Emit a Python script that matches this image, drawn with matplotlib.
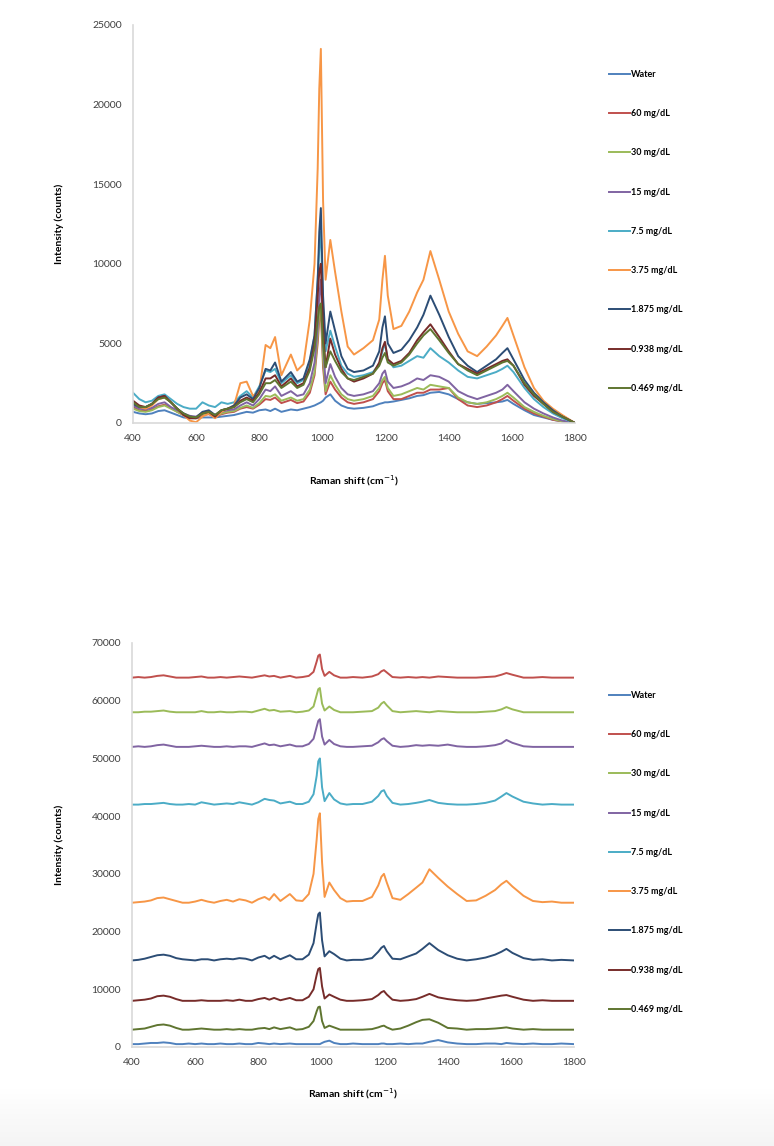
import numpy as np
import matplotlib
matplotlib.use('Agg')
import matplotlib.pyplot as plt

plt.rcParams['font.family'] = ['Lato', 'DejaVu Sans']

# Raman shift grid (cm-1), denser around the peaks
shift = [400, 420, 440, 460, 480, 500, 520, 540, 560, 580,
         600, 620, 640, 660, 680, 700, 720, 740, 760, 780,
         800, 820, 835, 850, 870, 900, 920, 940, 960, 975,
         985, 990, 995, 1002, 1010, 1025, 1040, 1060, 1080, 1100,
         1130, 1160, 1180, 1190, 1198, 1207, 1225, 1250, 1275, 1300,
         1320, 1342, 1370, 1400, 1430, 1460, 1490, 1520, 1550, 1570,
         1586, 1605, 1640, 1670, 1700, 1730, 1760, 1800]

labels = ['Water', '60 mg/dL', '30 mg/dL', '15 mg/dL', '7.5 mg/dL',
          '3.75 mg/dL', '1.875 mg/dL', '0.938 mg/dL', '0.469 mg/dL']
colors = ['#4F81BD', '#C0504D', '#9BBB59', '#8064A2', '#4BACC6',
          '#F79646', '#2C4D75', '#772C2A', '#5F7530']

# raw spectra (top panel)
raw_water = [700, 600, 550, 600, 750, 800, 650, 500, 350, 300,
             300, 350, 350, 350, 400, 450, 500, 600, 700, 650,
             800, 850, 750, 900, 700, 850, 800, 900, 1000, 1100,
             1200, 1250, 1300, 1400, 1600, 1800, 1400, 1100, 950, 900,
             950, 1050, 1200, 1250, 1300, 1300, 1350, 1450, 1550, 1700,
             1750, 1900, 1950, 1800, 1500, 1300, 1200, 1250, 1300, 1350,
             1450, 1200, 800, 500, 350, 200, 100, 0]
raw_60 = [1000, 800, 750, 850, 1050, 1150, 950, 700, 500, 350,
          300, 500, 550, 400, 550, 650, 700, 900, 1000, 900,
          1150, 1500, 1450, 1600, 1250, 1450, 1250, 1350, 1900, 3000,
          5000, 6500, 7000, 3500, 1800, 2600, 2100, 1600, 1300, 1200,
          1300, 1500, 2000, 2500, 2700, 2000, 1500, 1500, 1700, 1900,
          1900, 2100, 2100, 2200, 1500, 1100, 1000, 1100, 1300, 1500,
          1700, 1400, 900, 600, 400, 200, 100, 0]
raw_30 = [900, 750, 700, 800, 1000, 1100, 900, 700, 500, 400,
          350, 550, 600, 450, 600, 700, 750, 950, 1100, 950,
          1250, 1700, 1650, 1800, 1400, 1600, 1400, 1500, 2100, 3200,
          5500, 7000, 7500, 4000, 2000, 3000, 2400, 1800, 1500, 1400,
          1500, 1700, 2200, 2700, 2900, 2200, 1700, 1800, 2000, 2200,
          2100, 2400, 2300, 2200, 1600, 1300, 1200, 1300, 1500, 1700,
          1900, 1600, 1000, 700, 450, 250, 100, 0]
raw_15 = [1100, 900, 850, 950, 1200, 1300, 1000, 800, 600, 450,
          400, 650, 700, 500, 700, 800, 850, 1100, 1300, 1100,
          1500, 2100, 2000, 2300, 1700, 2000, 1700, 1800, 2500, 3800,
          6000, 8000, 9000, 5000, 2500, 3700, 2900, 2200, 1800, 1700,
          1800, 2000, 2500, 3100, 3300, 2600, 2200, 2300, 2500, 2800,
          2700, 3000, 2900, 2600, 2000, 1700, 1500, 1700, 1900, 2100,
          2400, 2000, 1300, 900, 600, 350, 150, 0]
raw_7_5 = [1900, 1500, 1300, 1400, 1700, 1800, 1500, 1200, 1000, 900,
           900, 1300, 1100, 1000, 1300, 1200, 1300, 1700, 2000, 1600,
           2300, 3300, 3200, 3400, 2500, 3000, 2500, 2700, 3800, 5500,
           9000, 11000, 12000, 7000, 4500, 5800, 4800, 3600, 3100, 2900,
           3000, 3200, 3700, 4500, 5000, 4000, 3500, 3600, 3900, 4200,
           4100, 4700, 4200, 3800, 3300, 2900, 2800, 3000, 3200, 3400,
           3600, 3200, 2200, 1500, 1000, 600, 300, 0]
raw_3_75 = [1300, 1000, 900, 1100, 1500, 1600, 1300, 900, 500, 150,
            50, 400, 600, 300, 700, 900, 1100, 2500, 2600, 1700,
            2000, 4900, 4700, 5400, 3000, 4300, 3300, 3700, 6500, 10000,
            16000, 21000, 23500, 14000, 9000, 11500, 9500, 7000, 4800, 4300,
            4700, 5200, 6500, 9000, 10500, 8000, 5900, 6100, 7000, 8200,
            9000, 10800, 9000, 7000, 5600, 4500, 4200, 4800, 5500, 6100,
            6600, 5500, 3500, 2200, 1400, 900, 500, 0]
raw_1_875 = [1200, 1000, 1000, 1200, 1600, 1700, 1300, 900, 600, 400,
             350, 700, 800, 500, 800, 900, 1100, 1600, 1800, 1500,
             2200, 3400, 3300, 3800, 2600, 3200, 2600, 2800, 4000, 5500,
             9000, 12000, 13500, 8000, 5000, 7000, 5800, 4200, 3400, 3200,
             3300, 3600, 4500, 6000, 6700, 5000, 4400, 4600, 5200, 6000,
             6800, 8000, 6800, 5400, 4200, 3600, 3200, 3600, 4000, 4400,
             4700, 4000, 2700, 1900, 1300, 800, 400, 0]
raw_0_938 = [1400, 1100, 1000, 1200, 1600, 1700, 1300, 900, 500, 300,
             300, 600, 700, 400, 800, 900, 1000, 1400, 1600, 1400,
             1900, 2800, 2800, 3000, 2300, 2800, 2300, 2500, 3500, 5000,
             8000, 9500, 10000, 6000, 3500, 5300, 4300, 3400, 2800, 2600,
             2800, 3100, 3800, 4700, 5100, 4000, 3700, 3900, 4400, 5200,
             5700, 6200, 5400, 4500, 3700, 3400, 3100, 3400, 3700, 3900,
             4000, 3600, 2400, 1700, 1200, 700, 400, 0]
raw_0_469 = [1300, 1000, 1000, 1200, 1500, 1600, 1300, 900, 600, 400,
             350, 600, 700, 500, 800, 900, 1000, 1300, 1500, 1300,
             1800, 2500, 2500, 2700, 2200, 2600, 2200, 2400, 3300, 4700,
             6500, 7300, 7500, 5000, 3500, 4500, 3900, 3200, 2800, 2700,
             2900, 3100, 3600, 4100, 4400, 3800, 3600, 3800, 4300, 5000,
             5500, 5900, 5200, 4400, 3700, 3300, 3000, 3300, 3600, 3800,
             3900, 3600, 2500, 1800, 1200, 700, 400, 0]

# baseline-corrected spectra (bottom panel), stacked with offsets
offsets = [500, 64000, 58000, 52000, 42000, 25000, 15000, 8000, 3000]

bc_water = [0, 0, 100, 200, 200, 300, 200, 0, 0, 100,
            0, 100, 0, 0, 100, 0, 0, 100, 0, 0,
            200, 100, 0, 100, 0, 100, 0, 0, 0, 0,
            0, 0, 0, 200, 400, 600, 200, 0, 0, 100,
            0, 0, 0, 100, 100, 0, 0, 100, 0, 100,
            100, 400, 700, 300, 100, 0, 0, 100, 100, 0,
            200, 100, 0, 100, 0, 0, 100, 0]
bc_60 = [0, 100, 0, 100, 300, 400, 200, 0, 0, 0,
         100, 200, 0, 0, 100, 0, 100, 200, 100, 0,
         200, 400, 200, 300, 0, 300, 0, 100, 300, 1000,
         2800, 3800, 4000, 1500, 300, 1000, 400, 0, 0, 100,
         0, 200, 600, 1100, 1300, 900, 100, 0, 100, 0,
         100, 0, 200, 100, 0, 0, 0, 100, 200, 500,
         800, 500, 0, 0, 100, 0, 0, 0]
bc_30 = [0, 0, 100, 100, 200, 300, 100, 0, 0, 0,
         0, 200, 0, 0, 100, 0, 0, 100, 100, 0,
         300, 600, 300, 400, 100, 200, 0, 100, 300, 1000,
         3000, 4000, 4200, 1500, 300, 1000, 400, 0, 0, 0,
         100, 200, 800, 1500, 1800, 1200, 200, 0, 100, 200,
         100, 0, 200, 100, 0, 0, 0, 100, 200, 500,
         900, 500, 0, 0, 0, 0, 0, 0]
bc_15 = [0, 100, 0, 100, 300, 400, 200, 0, 0, 0,
         100, 200, 100, 0, 0, 100, 0, 100, 100, 0,
         300, 600, 300, 400, 100, 400, 100, 100, 500, 1400,
         3500, 4500, 4800, 1800, 400, 1200, 500, 100, 0, 0,
         100, 200, 800, 1300, 1500, 1000, 200, 0, 100, 300,
         200, 300, 200, 400, 100, 0, 0, 100, 300, 600,
         1200, 700, 100, 0, 0, 0, 0, 0]
bc_7_5 = [0, 0, 100, 100, 200, 300, 100, 0, 0, 100,
          0, 400, 200, 0, 100, 200, 100, 400, 200, 0,
          400, 1000, 800, 700, 200, 500, 100, 100, 500, 1800,
          5000, 7500, 8000, 3000, 600, 2000, 900, 200, 0, 100,
          100, 500, 1500, 2300, 2500, 1500, 300, 0, 100, 300,
          500, 800, 300, 100, 0, 0, 100, 300, 700, 1400,
          2000, 1400, 500, 200, 0, 100, 0, 0]
bc_3_75 = [0, 100, 200, 400, 800, 900, 600, 300, 0, 0,
           200, 500, 200, 0, 300, 500, 200, 600, 400, 0,
           600, 1000, 500, 1500, 300, 1500, 400, 300, 1500, 5000,
           11000, 14500, 15500, 7000, 1000, 3500, 2200, 800, 200, 300,
           300, 1000, 3000, 4500, 5000, 3500, 800, 500, 1500, 2600,
           3500, 5800, 4300, 2800, 1500, 300, 400, 1200, 2200, 3200,
           3800, 2800, 1200, 300, 100, 200, 0, 0]
bc_1_875 = [0, 100, 300, 600, 900, 1000, 800, 400, 200, 100,
            0, 200, 200, 0, 200, 300, 200, 400, 300, 0,
            500, 800, 300, 800, 200, 900, 200, 200, 1000, 3000,
            6500, 8000, 8300, 3500, 700, 1600, 1100, 300, 0, 100,
            100, 400, 1500, 2200, 2500, 1600, 300, 200, 700, 1200,
            2000, 3000, 1800, 900, 300, 0, 200, 500, 1000, 1500,
            2000, 1300, 400, 100, 200, 0, 100, 0]
bc_0_938 = [0, 100, 200, 400, 800, 900, 700, 300, 0, 0,
            0, 100, 0, 0, 0, 100, 0, 200, 0, 0,
            300, 500, 200, 500, 100, 500, 100, 100, 700, 2000,
            4500, 5500, 5700, 2500, 400, 1100, 700, 200, 0, 0,
            100, 300, 1000, 1500, 1700, 1100, 200, 0, 100, 300,
            700, 1200, 600, 300, 100, 0, 100, 400, 700, 900,
            1000, 700, 200, 0, 100, 0, 0, 0]
bc_0_469 = [0, 100, 200, 500, 800, 900, 700, 300, 0, 0,
            100, 200, 100, 0, 0, 100, 0, 100, 0, 0,
            200, 300, 100, 400, 100, 400, 0, 100, 500, 1500,
            3200, 3900, 4000, 1500, 300, 700, 400, 0, 0, 0,
            0, 100, 400, 600, 700, 400, 0, 200, 700, 1300,
            1700, 1800, 1200, 300, 200, 0, 100, 100, 200, 300,
            400, 200, 0, 100, 0, 0, 0, 0]

raw = [raw_water, raw_60, raw_30, raw_15, raw_7_5, raw_3_75, raw_1_875, raw_0_938, raw_0_469]
corrected = [bc_water, bc_60, bc_30, bc_15, bc_7_5, bc_3_75, bc_1_875, bc_0_938, bc_0_469]

fig = plt.figure(figsize=(7.74, 11.46), dpi=100)

# faint grey fade at the bottom of the page (drawn first, behind everything)
bg = fig.add_axes([0, 0, 1, 60/1146])
grad = np.linspace(0, 1, 60).reshape(-1, 1)
bg.imshow(grad, aspect='auto', cmap='Greys', vmin=0, vmax=11, extent=[0, 1, 0, 1])
bg.axis('off')

ax1 = fig.add_axes([133/774, 1-423/1146, 442/774, 398/1146])
ax2 = fig.add_axes([132/774, 1-1047/1146, 442/774, 404/1146])
ax2.patch.set_alpha(0)

for i in range(len(labels)):
    ax1.plot(shift, raw[i], color=colors[i], lw=1.4, label=labels[i])
    ax2.plot(shift, np.array(corrected[i]) + offsets[i], color=colors[i], lw=1.4, label=labels[i])

for ax, ymax, step, xpad in [(ax1, 25000, 5000, 22), (ax2, 70000, 10000, 14)]:
    ax.set_xlim(400, 1800)
    ax.set_ylim(0, ymax)
    ax.set_xticks(np.arange(400, 1801, 200))
    ax.set_yticks(np.arange(0, ymax + 1, step))
    for s in ['top', 'right']:
        ax.spines[s].set_visible(False)
    for s in ['left', 'bottom']:
        ax.spines[s].set_color('#D9D9D9')
        ax.spines[s].set_linewidth(1.2)
    ax.tick_params(length=0, labelsize=7.5, labelcolor='#404040', pad=8)
    ax.set_ylabel('Intensity (counts)', fontsize=7.5, fontweight='bold', labelpad=20)
    ax.set_xlabel('Raman shift (cm$^{-1}$)', fontsize=7.5, fontweight='bold', labelpad=xpad)

leg_kw = dict(frameon=False, handlelength=2.3, handletextpad=0.15,
              labelspacing=3.35, borderpad=0, borderaxespad=0,
              prop={'weight': 'bold', 'size': 6.5})
fig.legend(*ax1.get_legend_handles_labels(), loc='upper left',
           bbox_to_anchor=(609/774, 1-70/1146), **leg_kw)
fig.legend(*ax2.get_legend_handles_labels(), loc='upper left',
           bbox_to_anchor=(609/774, 1-691/1146), **leg_kw)

fig.savefig('out.png', dpi=100)
